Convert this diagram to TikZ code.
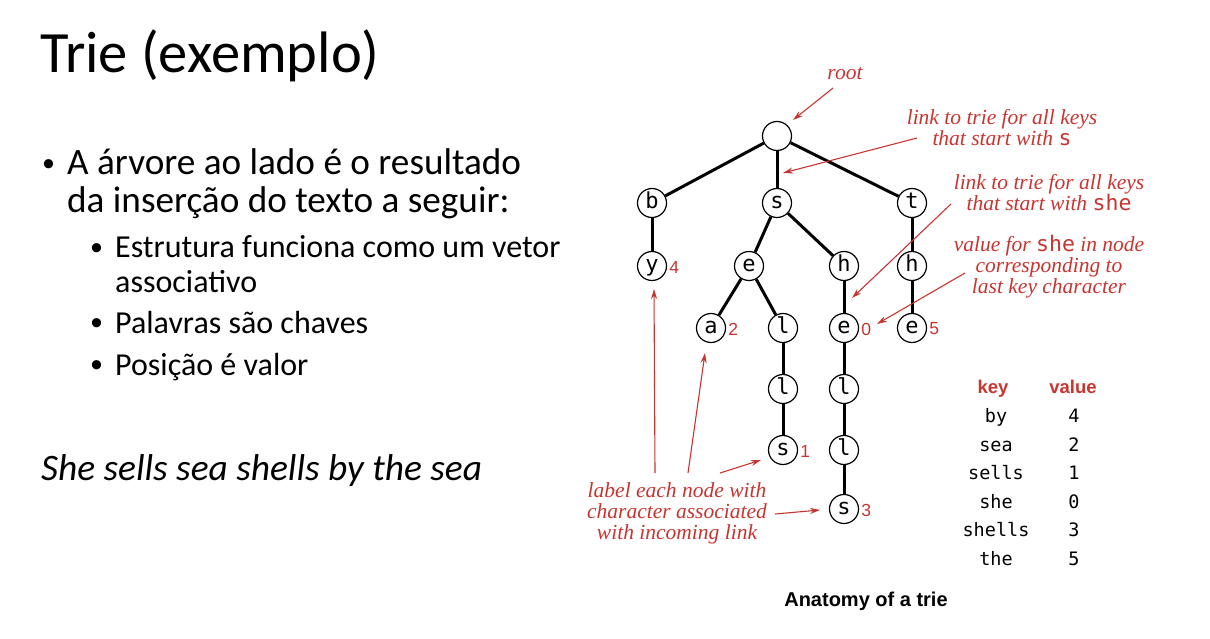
\documentclass[tikz,border=0pt]{standalone}
\usepackage{fontspec}
\setmainfont{Carlito}
\newfontfamily\monofont{DejaVu Sans Mono}
\newfontfamily\notefont{Liberation Serif}
\newfontfamily\headfont{Liberation Sans}
\usetikzlibrary{arrows.meta}
\definecolor{notered}{RGB}{200,52,48}
\begin{document}
\begin{tikzpicture}[x=1pt,y=-1pt,
  trienode/.style={circle,draw=black,line width=1.2pt,fill=white,minimum size=29pt,inner sep=0pt,
    font=\monofont\fontsize{22}{22}\selectfont,text height=11.5pt,text depth=0pt},
  link/.style={line width=3pt},
  note/.style={text=notered,font=\notefont\itshape\fontsize{21.5}{21}\selectfont,align=center,inner sep=0pt},
  pointer/.style={draw=notered,line width=1.1pt,-{Stealth[length=10pt,width=6pt]}},
  val/.style={text=notered,font=\headfont\fontsize{17.5}{17.5}\selectfont,anchor=west,inner sep=2pt,yshift=-1pt},
  slidetext/.style={anchor=base west,inner sep=0pt},
  lvlone/.style={slidetext,font=\fontsize{37.2}{37.2}\selectfont},
  lvltwo/.style={slidetext,font=\fontsize{32}{32}\selectfont},
  dot/.style={slidetext,font=\fontsize{26}{26}\selectfont},
  keycell/.style={anchor=base,inner sep=0pt,font=\monofont\fontsize{18.5}{18.5}\selectfont},
  headcell/.style={anchor=base,inner sep=0pt,text=notered,font=\headfont\bfseries\fontsize{18.5}{18.5}\selectfont}]
\useasboundingbox (0,0) rectangle (1210,639);

% ---- slide text ----
\node[slidetext,font=\fontsize{58.5}{58.5}\selectfont] (title) at (40,73) {Trie (exemplo)};
\node[dot] (b1) at (42,172) {•};
\node[lvlone] (t1) at (67,175) {A árvore ao lado é o resultado};
\node[lvlone] (t1b) at (67,213) {da inserção do texto a seguir:};
\node[dot] (b2) at (90,255) {•};
\node[lvltwo] (t2) at (115,258) {Estrutura funciona como um vetor};
\node[lvltwo] (t2b) at (115,292) {associativo};
\node[dot] (b3) at (90,330) {•};
\node[lvltwo] (t3) at (115,333) {Palavras são chaves};
\node[dot] (b4) at (90,372) {•};
\node[lvltwo] (t4) at (115,375) {Posição é valor};
\node[lvlone,font=\itshape\fontsize{37.4}{37.4}\selectfont] (phrase) at (41,480) {She sells sea shells by the sea};

% ---- trie nodes ----
\node[trienode] (root) at (777,136) {};
\node[trienode] (b) at (652,203) {b};
\node[trienode] (s) at (777,203) {s};
\node[trienode] (t) at (912,203) {t};
\node[trienode] (y) at (652,266) {y};
\node[trienode] (se) at (749,266) {e};
\node[trienode] (sh) at (844,266) {h};
\node[trienode] (th) at (912,266) {h};
\node[trienode] (sea) at (711,328) {a};
\node[trienode] (sel) at (783,328) {l};
\node[trienode] (she) at (844,328) {e};
\node[trienode] (the) at (912,328) {e};
\node[trienode] (sell) at (783,389) {l};
\node[trienode] (shel) at (844,389) {l};
\node[trienode] (sells) at (783,450) {s};
\node[trienode] (shell) at (844,450) {l};
\node[trienode] (shells) at (844,509) {s};

% ---- links ----
\draw[link] (root) -- (b);
\draw[link] (root) -- (s);
\draw[link] (root) -- (t);
\draw[link] (b) -- (y);
\draw[link] (s) -- (se);
\draw[link] (s) -- (sh);
\draw[link] (t) -- (th);
\draw[link] (se) -- (sea);
\draw[link] (se) -- (sel);
\draw[link] (sh) -- (she);
\draw[link] (th) -- (the);
\draw[link] (sel) -- (sell);
\draw[link] (she) -- (shel);
\draw[link] (sell) -- (sells);
\draw[link] (shel) -- (shell);
\draw[link] (shell) -- (shells);

% ---- stored values ----
\node[val] (vy) at (y.east) {4};
\node[val] (vsea) at (sea.east) {2};
\node[val] (vshe) at (she.east) {0};
\node[val] (vthe) at (the.east) {5};
\node[val] (vsells) at (sells.east) {1};
\node[val] (vshells) at (shells.east) {3};

% ---- annotations ----
\node[note] (rootnote) at (845,74) {root};
\coordinate (rootTail) at (833,88);
\coordinate (rootHead) at (793,120);
\draw[pointer] (rootTail) -- (rootHead);

\node[note] (snote) at (1002,128) {link to trie for all keys\\that start with {\monofont\upshape s}};
\coordinate (sTail) at (917,138);
\coordinate (sHead) at (783,173);
\draw[pointer] (sTail) -- (sHead);

\node[note] (shenote) at (1049,193) {link to trie for all keys\\that start with {\monofont\upshape she}};
\coordinate (sheTail) at (951,204);
\coordinate (sheHead) at (852,298);
\draw[pointer] (sheTail) -- (sheHead);

\node[note] (valnote) at (1049,267) {value for {\monofont\upshape she} in node\\corresponding to\\last key character};
\coordinate (valTail) at (965,273);
\coordinate (valHead) at (877,324);
\draw[pointer] (valTail) -- (valHead);

\node[note] (labelnote) at (677,513) {label each node with\\character associated\\with incoming link};
\coordinate (lTailA) at (655,473);
\coordinate (lHeadA) at (654,289);
\coordinate (lTailB) at (688,473);
\coordinate (lHeadB) at (705,353);
\coordinate (lTailC) at (720,473);
\coordinate (lHeadC) at (761,460);
\coordinate (lTailD) at (775,514);
\coordinate (lHeadD) at (820,510);
\draw[pointer] (lTailA) -- (lHeadA);
\draw[pointer] (lTailB) -- (lHeadB);
\draw[pointer] (lTailC) -- (lHeadC);
\draw[pointer] (lTailD) -- (lHeadD);

% ---- key/value table ----
\node[headcell] (hkey) at (993,393) {key};
\node[headcell] (hval) at (1073,393) {value};
\node[keycell] (k1) at (996,422) {by};     \node[keycell] (v1) at (1074,422) {4};
\node[keycell] (k2) at (996,451) {sea};    \node[keycell] (v2) at (1074,451) {2};
\node[keycell] (k3) at (996,479) {sells};  \node[keycell] (v3) at (1074,479) {1};
\node[keycell] (k4) at (996,508) {she};    \node[keycell] (v4) at (1074,508) {0};
\node[keycell] (k5) at (996,536) {shells}; \node[keycell] (v5) at (1074,536) {3};
\node[keycell] (k6) at (996,565) {the};    \node[keycell] (v6) at (1074,565) {5};

\node[anchor=base,inner sep=0pt,font=\headfont\bfseries\fontsize{20}{20}\selectfont] (caption) at (866,606) {Anatomy of a trie};
\end{tikzpicture}
\end{document}
